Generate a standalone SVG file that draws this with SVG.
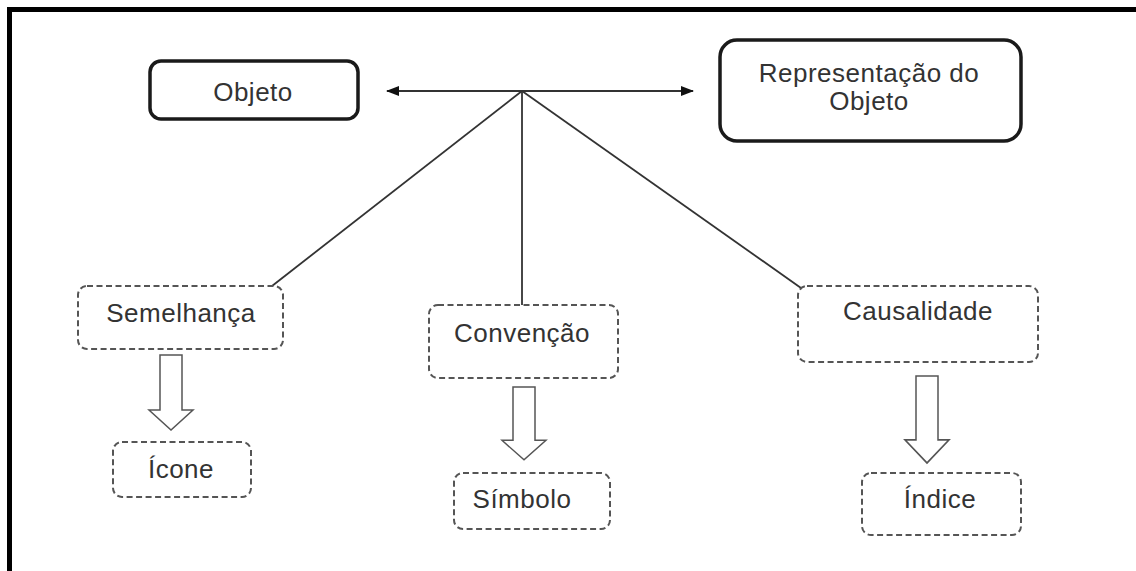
<svg xmlns="http://www.w3.org/2000/svg" width="1136" height="571" viewBox="0 0 1136 571">
  <style>
    .lbl { font-family: "Liberation Sans", Arial, sans-serif; font-size: 26px; letter-spacing: 0.5px; fill: #333; text-anchor: middle; }
    .solid { fill: #fff; stroke: #1a1a1a; stroke-width: 3.5; }
    .dash { fill: #fff; stroke: #555; stroke-width: 2; stroke-dasharray: 6 3.5; }
    .link { fill: none; stroke: #333; stroke-width: 1.8; }
    .down { fill: #fff; stroke: #555; stroke-width: 1.5; stroke-linejoin: miter; }
  </style>
  <defs>
    <marker id="tip" viewBox="0 0 13 10" refX="12" refY="5" markerWidth="13" markerHeight="10" markerUnits="userSpaceOnUse" orient="auto-start-reverse">
      <path d="M0,0 L13,5 L0,10 Z" fill="#111"/>
    </marker>
    <path id="downArrow" d="M-11,0 H11 V55 H22 L0,75 L-22,55 H-11 Z"/>
  </defs>

  <rect width="1136" height="571" fill="#fff"/>
  <!-- outer frame (runs past the right and bottom edges) -->
  <rect x="9.5" y="9.5" width="1140" height="580" fill="none" stroke="#000" stroke-width="5"/>

  <g id="connectors">
    <line class="link" x1="387" y1="91" x2="693" y2="91" marker-start="url(#tip)" marker-end="url(#tip)"/>
    <line class="link" x1="522" y1="91" x2="272" y2="286"/>
    <line class="link" x1="522" y1="91" x2="522" y2="305"/>
    <line class="link" x1="522" y1="91" x2="801" y2="288"/>
    <use href="#downArrow" class="down" x="171" y="355"/>
    <use href="#downArrow" class="down" transform="translate(524,387) scale(1,0.97)"/>
    <use href="#downArrow" class="down" transform="translate(927,376) scale(1,1.16)"/>
  </g>

  <g id="objeto">
    <rect class="solid" x="150" y="61" width="208" height="58" rx="11"/>
    <text class="lbl" x="253" y="101">Objeto</text>
  </g>

  <g id="representacao">
    <rect class="solid" x="720" y="40" width="301" height="101" rx="17"/>
    <text class="lbl" x="869" y="82">Representação do</text>
    <text class="lbl" x="869" y="110">Objeto</text>
  </g>

  <g id="semelhanca">
    <rect class="dash" x="78" y="286" width="205" height="63" rx="9"/>
    <text class="lbl" x="181" y="322">Semelhança</text>
  </g>

  <g id="convencao">
    <rect class="dash" x="429" y="305" width="189" height="73" rx="9"/>
    <text class="lbl" x="522" y="342">Convenção</text>
  </g>

  <g id="causalidade">
    <rect class="dash" x="798" y="286" width="240" height="76" rx="9"/>
    <text class="lbl" x="918" y="320">Causalidade</text>
  </g>

  <g id="icone">
    <rect class="dash" x="113" y="442" width="138" height="55" rx="9"/>
    <text class="lbl" x="181" y="478">Ícone</text>
  </g>

  <g id="simbolo">
    <rect class="dash" x="454" y="473" width="156" height="56" rx="9"/>
    <text class="lbl" x="522" y="508">Símbolo</text>
  </g>

  <g id="indice">
    <rect class="dash" x="862" y="473" width="159" height="62" rx="9"/>
    <text class="lbl" x="940" y="508">Índice</text>
  </g>
</svg>
